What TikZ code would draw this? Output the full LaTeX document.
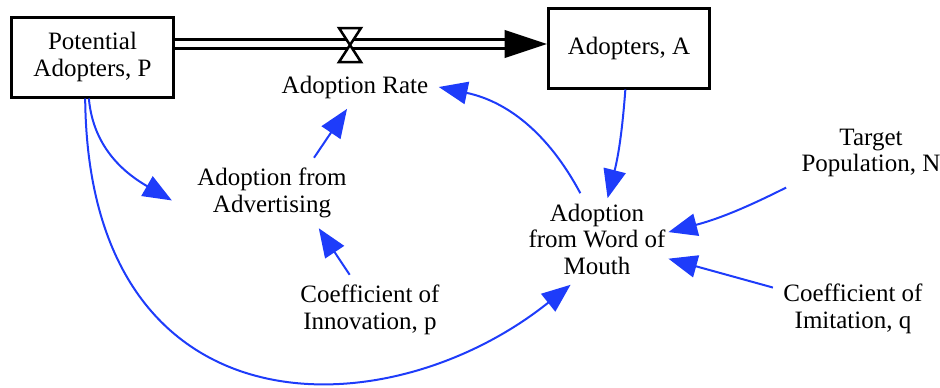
\documentclass[tikz,border=0pt]{standalone}
\usepackage{fontspec}
\setmainfont{Liberation Serif}
\usepackage{tikz}
\usetikzlibrary{arrows.meta, positioning}
\definecolor{azul}{RGB}{30, 60, 250}
\tikzset{
    stock/.style={draw, rectangle, line width=1.2pt, minimum width=64.4pt, minimum height=32pt, align=center, inner sep=2pt},
    aux/.style={align=center, inner sep=4pt},
    link/.style={-{Triangle[length=11.5pt, width=9pt]}, azul, line width=0.8pt},
    pipe/.style={double, double distance=2.4pt, line width=1.1pt, -{Triangle[length=17pt, width=11pt]}},
    valv/.style={draw, line width=1pt, fill=white},
}
\begin{document}
\begin{tikzpicture}[
        x=0.4pt, y=-0.4pt,
        font=\fontsize{10}{10.6}\selectfont,
        ]
        \useasboundingbox (0,0) rectangle (940,387);

        \node [stock] (p) at (92.5,57) {Potential\\Adopters, P};
        \node [stock] (a) at (629,48) {Adopters, A};
        \coordinate (valve) at (350,44);

        \node [aux] (rate) at (355,87) {Adoption Rate};
        \node [aux] (adv) at (272,193) {Adoption from\\Advertising};
        \node [aux] (innov) at (370,310) {Coefficient of\\Innovation, p};
        \node [aux] (wom) at (597,239) {Adoption\\from Word of\\Mouth};
        \node [aux] (target) at (871,153) {Target\\Population, N};
        \node [aux] (imit) at (853,309) {Coefficient of\\Imitation, q};

        \draw[pipe] (p.east |- valve) -- (a.west |- valve);
        \draw[valv] ([shift={(-11,-16)}]valve) -- ([shift={(11,-16)}]valve)
            -- ([shift={(-11,18)}]valve) -- ([shift={(11,18)}]valve) -- cycle;

        \draw[link] (p.265) to[out=-85, in=150] ([xshift=-6pt]adv.185);
        \draw[link] (p.260) .. controls +(3,338) and +(-185,148) .. (wom.-120);
        \draw[link] (adv.40) -- (rate.250);
        \draw[link] (innov.120) -- (adv.-37);
        \draw[link] (a.265) to[bend left=5] ([yshift=-2pt]wom.77);
        \draw[link] (wom.110) to[bend right=25] (rate.east);
        \draw[link] ([xshift=-2pt]target.south west) to[bend left=6] ([xshift=-3pt]wom.5);
        \draw[link] (imit.165) -- ([xshift=-3pt]wom.-14);
    \end{tikzpicture}
\end{document}
